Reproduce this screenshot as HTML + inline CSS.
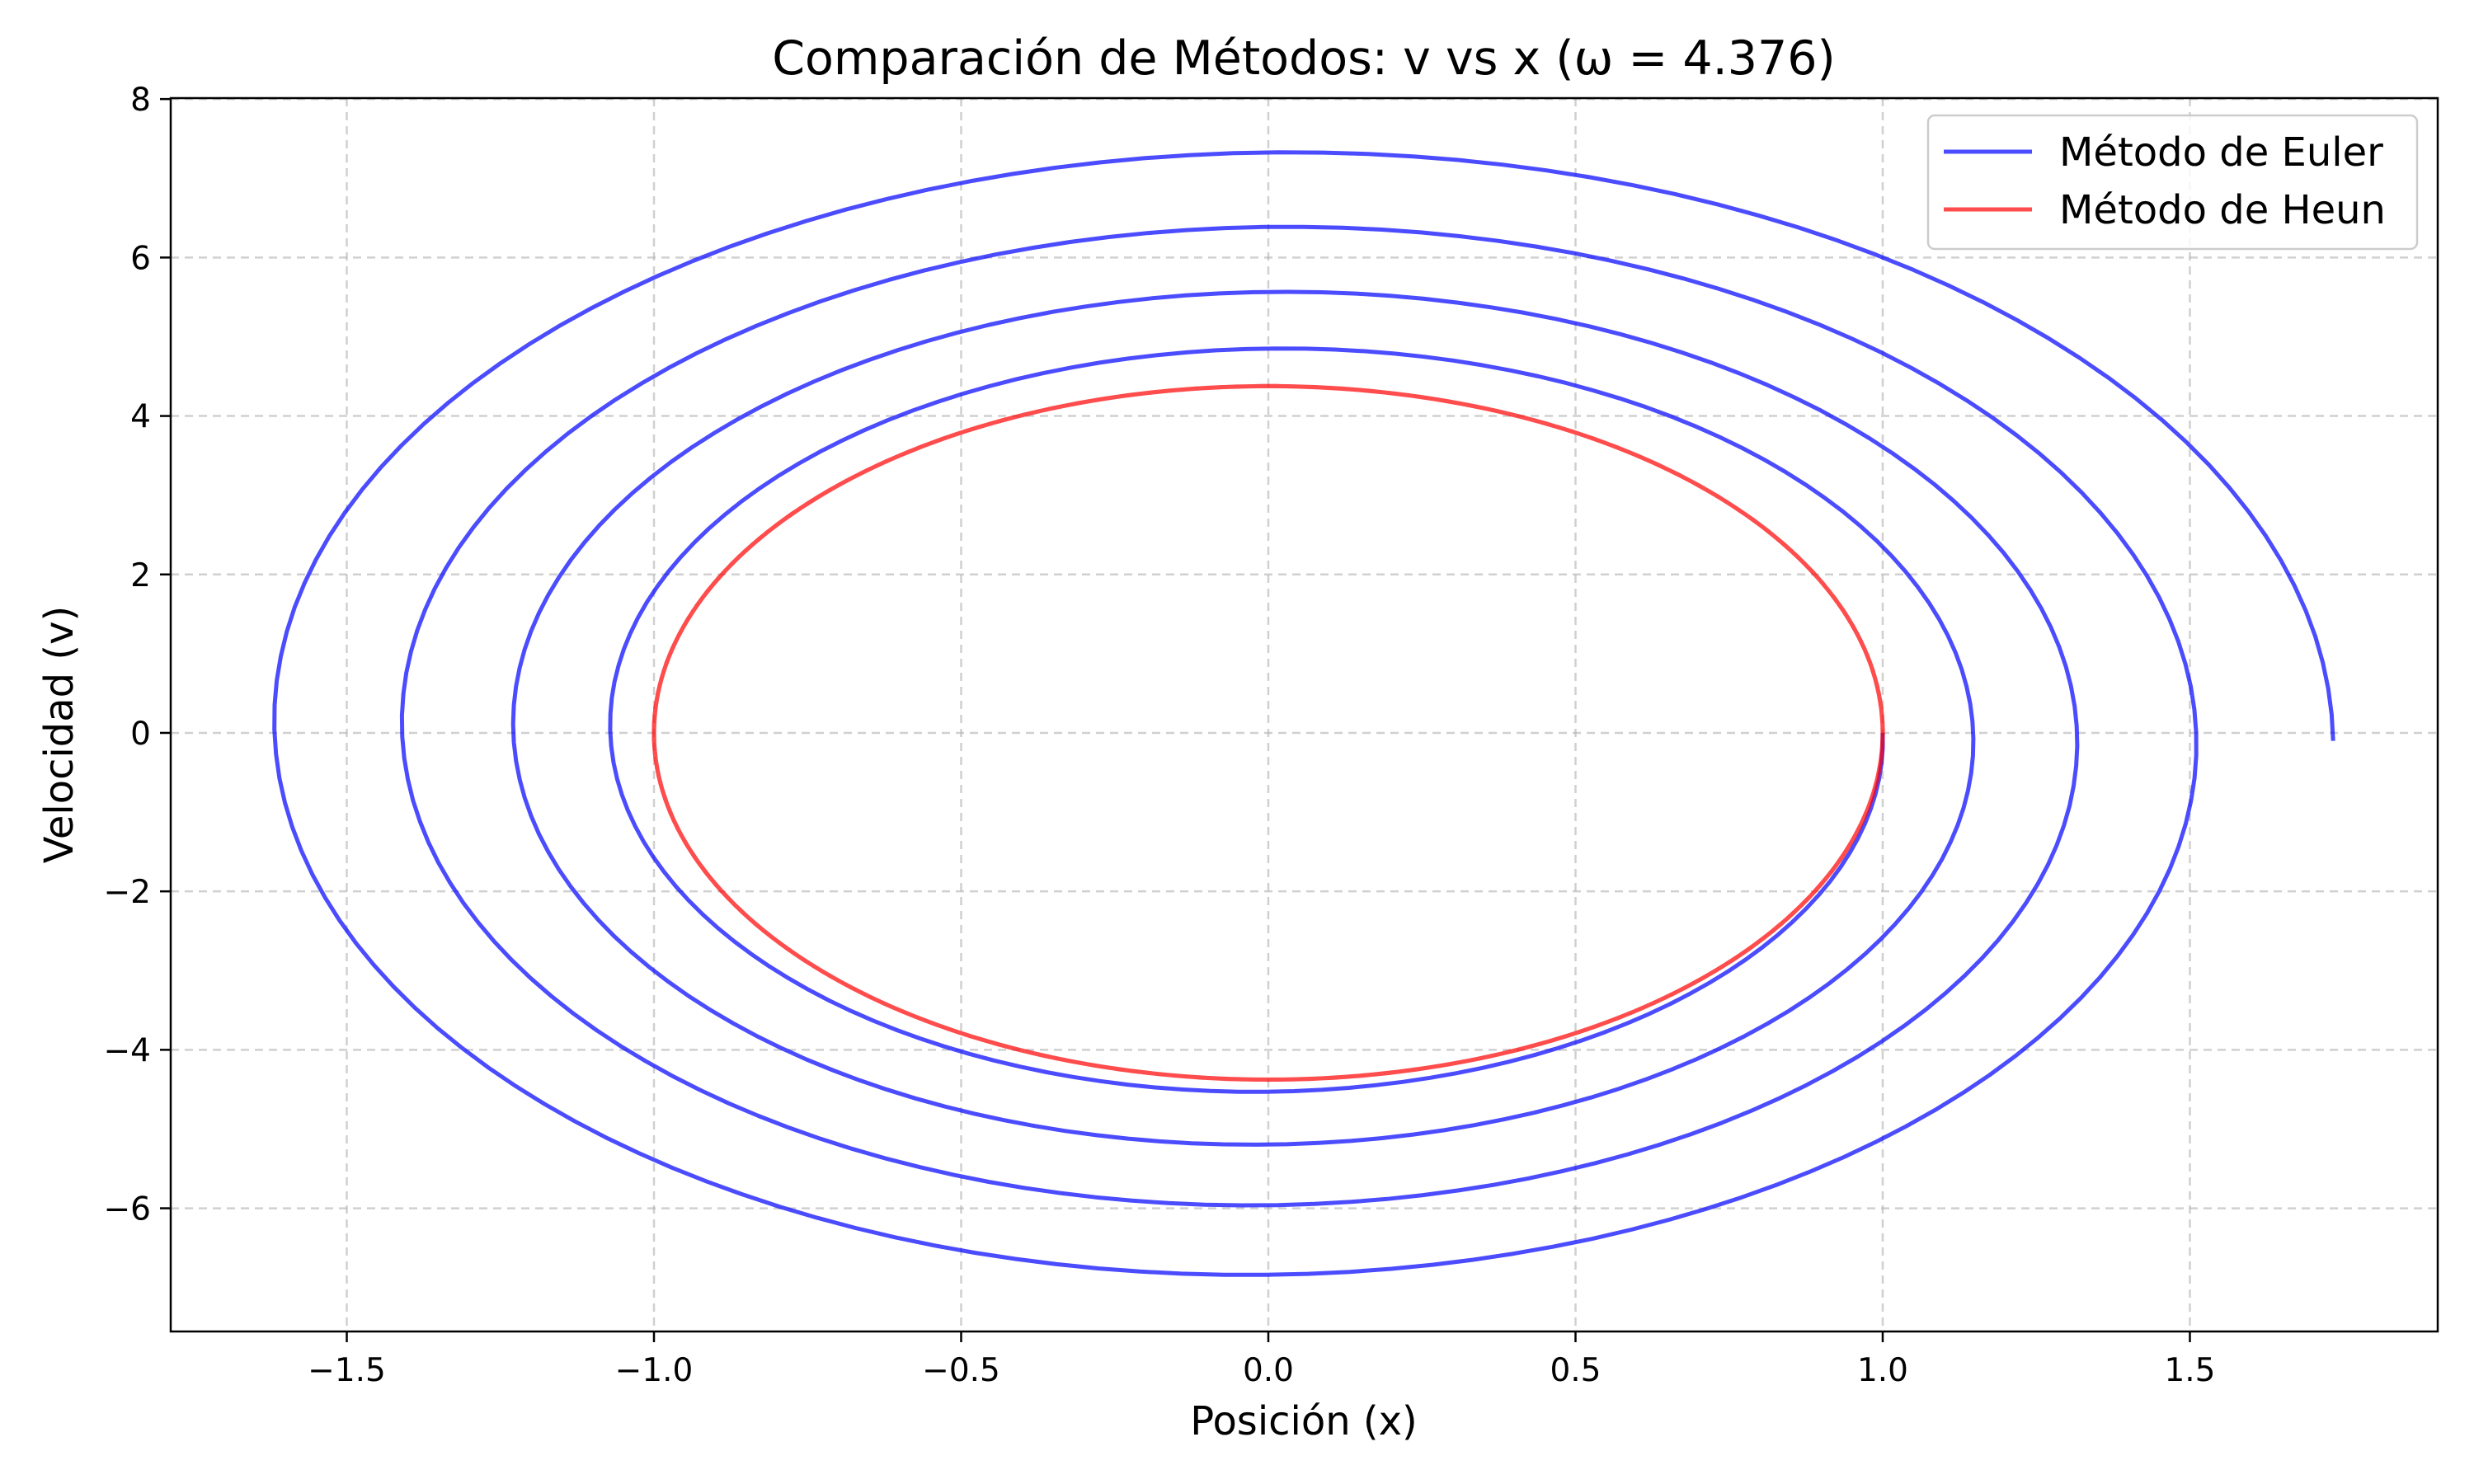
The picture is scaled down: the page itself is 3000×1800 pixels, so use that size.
<!DOCTYPE html>
<html><head><meta charset="utf-8"><style>
html,body{margin:0;padding:0;background:#fff}
svg{display:block;font-family:"DejaVu Sans","Liberation Sans",sans-serif}
</style></head><body>
<svg id="chart" width="3000" height="1800" viewBox="0 0 3000 1800" xmlns="http://www.w3.org/2000/svg">
<rect width="3000" height="1800" fill="#fff"/>
<g id="grid"></g>
<g id="series"></g>
<rect x="207" y="119" width="2749" height="1496" fill="none" stroke="#000" stroke-width="2.5"/>
<g id="ticks"></g>
<text x="1581" y="90" font-size="57" text-anchor="middle">Comparación de Métodos: v vs x (ω = 4.376)</text>
<text x="1581" y="1740" font-size="48" text-anchor="middle">Posición (x)</text>
<text x="0" y="0" font-size="48" text-anchor="middle" transform="translate(88,891) rotate(-90)">Velocidad (v)</text>
<g>
<rect x="2338" y="140" width="593" height="162" rx="8" fill="#fff" fill-opacity="0.8" stroke="#ccc" stroke-width="2.5"/>
<line x1="2357" y1="184" x2="2464" y2="184" stroke="#0000ff" stroke-opacity="0.7" stroke-width="5"/>
<text x="2497" y="201" font-size="48">Método de Euler</text>
<line x1="2357" y1="254" x2="2464" y2="254" stroke="#ff0000" stroke-opacity="0.7" stroke-width="5"/>
<text x="2497" y="271" font-size="48">Método de Heun</text>
</g>
</svg>
<script>
// Simulation parameters (the data source): omega, step size, step count, initial state
const omegaVals = [4.376];
const stepSize = [0.01];
const stepCount = [575];
const initState = [1, 0];
const xTicks = [-1.5, -1.0, -0.5, 0.0, 0.5, 1.0, 1.5];
const yTicks = [-6, -4, -2, 0, 2, 4, 6, 8];
const xTickLabels = ["−1.5","−1.0","−0.5","0.0","0.5","1.0","1.5"];
const yTickLabels = ["−6","−4","−2","0","2","4","6","8"];

const NS = "http://www.w3.org/2000/svg";
const X0 = 207, X1 = 2956, Y0 = 119, Y1 = 1615;
const xMin = -1.7866, xMax = 1.9034, yMin = -7.555, yMax = 8.012;
function sx(v){return X0 + (v - xMin) / (xMax - xMin) * (X1 - X0);}
function sy(v){return Y1 - (v - yMin) / (yMax - yMin) * (Y1 - Y0);}

const w = omegaVals[0], h = stepSize[0], N = stepCount[0];
const eulerX = [initState[0]], eulerV = [initState[1]];
const heunX = [initState[0]], heunV = [initState[1]];
for (let i = 0; i < N; i++) {
  const x = eulerX[i], v = eulerV[i];
  eulerX.push(x + h * v); eulerV.push(v - h * w * w * x);
  const hx = heunX[i], hv = heunV[i];
  const px = hx + h * hv, pv = hv - h * w * w * hx;
  heunX.push(hx + h / 2 * (hv + pv));
  heunV.push(hv + h / 2 * (-w * w * hx - w * w * px));
}

const grid = document.getElementById('grid');
const ticks = document.getElementById('ticks');
function mk(tag, attrs, parent){const e=document.createElementNS(NS,tag);for(const k in attrs)e.setAttribute(k,attrs[k]);parent.appendChild(e);return e;}
xTicks.forEach((t,i)=>{
  const X = sx(t);
  const g = mk('line',{x1:X,x2:X,y1:Y0,y2:Y1,stroke:'#b0b0b0','stroke-opacity':0.6,'stroke-width':2.5,'stroke-dasharray':'10,7'},grid);
  
  
  const tk = mk('line',{x1:X,x2:X,y1:Y1,y2:Y1+13,stroke:'#000','stroke-width':2.5},ticks);
  
  
  const lb = mk('text',{x:X,y:Y1+60,'font-size':39,'text-anchor':'middle'},ticks);
  lb.textContent = xTickLabels[i];
  
  
});
yTicks.forEach((t,i)=>{
  const Y = sy(t);
  const g = mk('line',{x1:X0,x2:X1,y1:Y,y2:Y,stroke:'#b0b0b0','stroke-opacity':0.6,'stroke-width':2.5,'stroke-dasharray':'10,7'},grid);
  
  
  const tk = mk('line',{x1:X0-13,x2:X0,y1:Y,y2:Y,stroke:'#000','stroke-width':2.5},ticks);
  
  
  const lb = mk('text',{x:X0-24,y:Y+14,'font-size':39,'text-anchor':'end'},ticks);
  lb.textContent = yTickLabels[i];
  
  
});
const series = document.getElementById('series');
function pathOf(xs, vs){return xs.map((x,i)=>(i?'L':'M')+sx(x).toFixed(1)+','+sy(vs[i]).toFixed(1)).join('');}
const pe = mk('path',{d:pathOf(eulerX,eulerV),fill:'none',stroke:'#0000ff','stroke-opacity':0.7,'stroke-width':5,'stroke-linejoin':'round'},series);


const ph = mk('path',{d:pathOf(heunX,heunV),fill:'none',stroke:'#ff0000','stroke-opacity':0.7,'stroke-width':5,'stroke-linejoin':'round'},series);


</script>
</body></html>
